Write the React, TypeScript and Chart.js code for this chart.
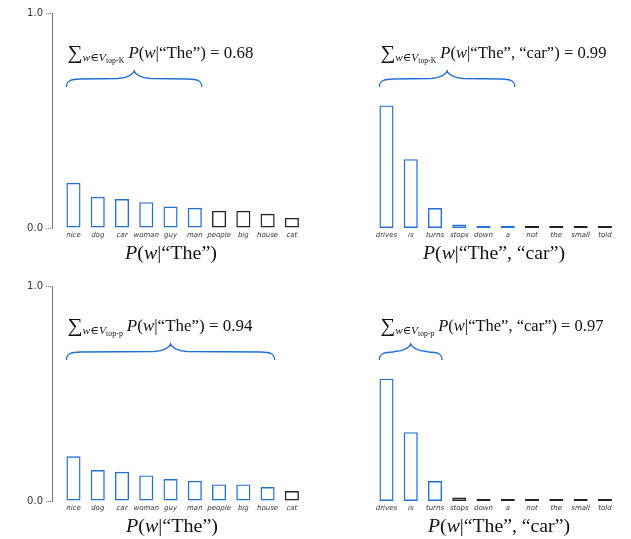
import React, { useEffect, useRef } from 'react';
import { Chart, registerables } from 'chart.js';

Chart.register(...registerables);

// ---- data ----
const wordsThe = ['nice', 'dog', 'car', 'woman', 'guy', 'man', 'people', 'big', 'house', 'cat'];
const probsTheTopK = [0.21, 0.145, 0.135, 0.12, 0.1, 0.094, 0.08, 0.08, 0.066, 0.047];
const probsTheTopP = [0.208, 0.144, 0.136, 0.119, 0.102, 0.094, 0.077, 0.077, 0.065, 0.046];
const wordsCar = ['drives', 'is', 'turns', 'stops', 'down', 'a', 'not', 'the', 'small', 'told'];
const probsCarTopK = [0.57, 0.32, 0.093, 0.016, 0.006, 0.003, 0.001, 0.001, 0.001, 0.001];
const probsCarTopP = [0.569, 0.32, 0.093, 0.016, 0.006, 0.002, 0.001, 0.001, 0.001, 0.001];
const keptCounts = [6, 6, 9, 3];
const sumValues = ['0.68', '0.99', '0.94', '0.97'];
const subscripts = ['top-K', 'top-K', 'top-p', 'top-p'];
const yTickValues = [0, 1];

const BLUE = '#2470d2';
const DARK = '#222222';
const MATH_FONT = '"Liberation Serif", "DejaVu Serif", serif';

type Seg = { t: string; size: number; it?: boolean; dy?: number };

function fontOf(s: Seg) {
  return `${s.it ? 'italic ' : ''}${s.size}px ${MATH_FONT}`;
}

function drawSegs(ctx: CanvasRenderingContext2D, x: number, y: number, segs: Seg[], targetW: number, center = false) {
  ctx.save();
  let w = 0;
  for (const s of segs) {
    ctx.font = fontOf(s);
    w += ctx.measureText(s.t).width;
  }
  const sx = targetW / w;
  ctx.translate(center ? x - targetW / 2 : x, y);
  ctx.scale(sx, 1);
  ctx.textBaseline = 'alphabetic';
  ctx.textAlign = 'left';
  ctx.fillStyle = '#111';
  let cx = 0;
  for (const s of segs) {
    ctx.font = fontOf(s);
    ctx.fillText(s.t, cx, s.dy || 0);
    cx += ctx.measureText(s.t).width;
  }
  ctx.restore();
}

function condSegs(car: boolean, size: number): Seg[] {
  return [
    { t: 'P', size, it: true },
    { t: '(', size },
    { t: 'w', size, it: true },
    { t: car ? '|\u201CThe\u201D, \u201Ccar\u201D)' : '|\u201CThe\u201D)', size },
  ];
}

function sumSegs(sub: string, car: boolean, value: string): Seg[] {
  return [
    { t: '\u2211', size: 20, dy: 1 },
    { t: 'w', size: 11, it: true, dy: 3 },
    { t: '\u2208', size: 11, dy: 3 },
    { t: 'V', size: 11, it: true, dy: 3 },
    { t: sub, size: 7.5, dy: 5 },
    { t: ' ', size: 15 },
    ...condSegs(car, 16),
    { t: ' = ' + value, size: 16 },
  ];
}

function drawBrace(ctx: CanvasRenderingContext2D, x0: number, x1: number, yEnd: number, yTip: number) {
  const xm = (x0 + x1) / 2;
  const yH = (yEnd + yTip) / 2;
  ctx.save();
  ctx.strokeStyle = BLUE;
  ctx.lineWidth = 1.3;
  ctx.beginPath();
  ctx.moveTo(x0, yEnd);
  ctx.bezierCurveTo(x0, yH + 2, x0 + 4, yH, x0 + 14, yH);
  ctx.lineTo(xm - 16, yH - 0.5);
  ctx.bezierCurveTo(xm - 6, yH - 1, xm - 1, yTip + 3, xm, yTip);
  ctx.bezierCurveTo(xm + 1, yTip + 3, xm + 6, yH - 1, xm + 16, yH - 0.5);
  ctx.lineTo(x1 - 14, yH);
  ctx.bezierCurveTo(x1 - 4, yH, x1, yH + 2, x1, yEnd);
  ctx.stroke();
  ctx.restore();
}

type Panel = {
  words: string[];
  probs: number[];
  idx: number;
  car: boolean;
  left: number;
  top: number;
  height: number;
  showY: boolean;
  sumW: number;
  labelW: number;
  labelX: number;
};

const panels: Panel[] = [
  { words: wordsThe, probs: probsTheTopK, idx: 0, car: false, left: 0, top: 0, height: 270, showY: true, sumW: 186, labelW: 92, labelX: 171 },
  { words: wordsCar, probs: probsCarTopK, idx: 1, car: true, left: 313, top: 0, height: 270, showY: false, sumW: 226, labelW: 142, labelX: 181 },
  { words: wordsThe, probs: probsTheTopP, idx: 2, car: false, left: 0, top: 273, height: 266, showY: true, sumW: 185, labelW: 92, labelX: 172 },
  { words: wordsCar, probs: probsCarTopP, idx: 3, car: true, left: 313, top: 273, height: 266, showY: false, sumW: 223, labelW: 142, labelX: 186 },
];

const CANVAS_W = 316;

function PanelChart({ p }: { p: Panel }) {
  const ref = useRef<HTMLCanvasElement | null>(null);
  useEffect(() => {
    if (!ref.current) return;
    const kept = keptCounts[p.idx];
    const colors = p.probs.map((_, i) => (i < kept ? BLUE : DARK));
    const overlay = {
      id: 'overlay' + p.idx,
      afterDraw(chart: any) {
        const ctx: CanvasRenderingContext2D = chart.ctx;
        const bars = chart.getDatasetMeta(0).data;
        const first = bars[0];
        const last = bars[kept - 1];
        const x0 = first.x - first.width / 2;
        const x1 = last.x + last.width / 2;
        drawBrace(ctx, x0, x1, 87, 71);
        drawSegs(ctx, x0 + 1, 57.5, sumSegs(subscripts[p.idx], p.car, sumValues[p.idx]), p.sumW);
        drawSegs(ctx, p.labelX, 259, condSegs(p.car, 19), p.labelW, true);
      },
    };
    const chart = new Chart(ref.current, {
      type: 'bar',
      data: {
        datasets: [
          {
            data: p.probs.map((v, i) => ({ x: i, y: v })),
            backgroundColor: 'rgba(255,255,255,0)',
            borderColor: colors,
            borderWidth: 1.4,
            borderSkipped: false,
            minBarLength: 2,
            barPercentage: 0.58,
            categoryPercentage: 1,
          },
        ],
      },
      options: {
        responsive: false,
        animation: false,
        layout: { padding: { top: 13, left: p.showY ? 0 : 52, right: 12, bottom: 0 } },
        plugins: { legend: { display: false }, tooltip: { enabled: false } },
        scales: {
          x: {
            type: 'linear',
            offset: false,
            min: -0.885,
            max: 9.5,
            grid: { display: false, offset: false, drawTicks: false },
            border: { display: false },
            afterFit: (scale: any) => {
              scale.height = p.height - 228;
            },
            ticks: {
              stepSize: 1,
              autoSkip: false,
              maxRotation: 0,
              includeBounds: false,
              padding: 3,
              color: '#333',
              font: { family: '"DejaVu Sans", sans-serif', size: 7, style: 'italic' },
              callback: (v: any) => {
                const n = Number(v);
                return Number.isInteger(n) && n >= 0 && n < p.words.length ? p.words[n] : '';
              },
            },
          },
          y: {
            display: p.showY,
            min: 0,
            max: 1,
            afterFit: (scale: any) => {
              scale.width = p.showY ? 52 : 0;
            },
            border: { display: true, color: '#777', width: 1, dash: [1, 1.5] },
            grid: {
              display: true,
              drawOnChartArea: false,
              drawTicks: true,
              tickLength: 6,
              tickColor: '#777',
              tickBorderDash: [1, 1],
            },
            afterBuildTicks: (scale: any) => {
              scale.ticks = yTickValues.map((v) => ({ value: v }));
            },
            ticks: {
              padding: 3,
              color: '#333',
              font: { family: '"DejaVu Sans", sans-serif', size: 10 },
              callback: (v: any) => Number(v).toFixed(1),
            },
          },
        },
      },
      plugins: [overlay],
    } as any);
    return () => chart.destroy();
  }, [p]);
  return (
    <canvas
      ref={ref}
      width={CANVAS_W}
      height={p.height}
      style={{ position: 'absolute', left: p.left, top: p.top, width: CANVAS_W, height: p.height }}
    />
  );
}

export default function App() {
  return (
    <div style={{ position: 'absolute', left: 0, top: 0, width: 631, height: 539, background: '#fff' }}>
      {panels.map((p) => (
        <PanelChart key={p.idx} p={p} />
      ))}
    </div>
  );
}
